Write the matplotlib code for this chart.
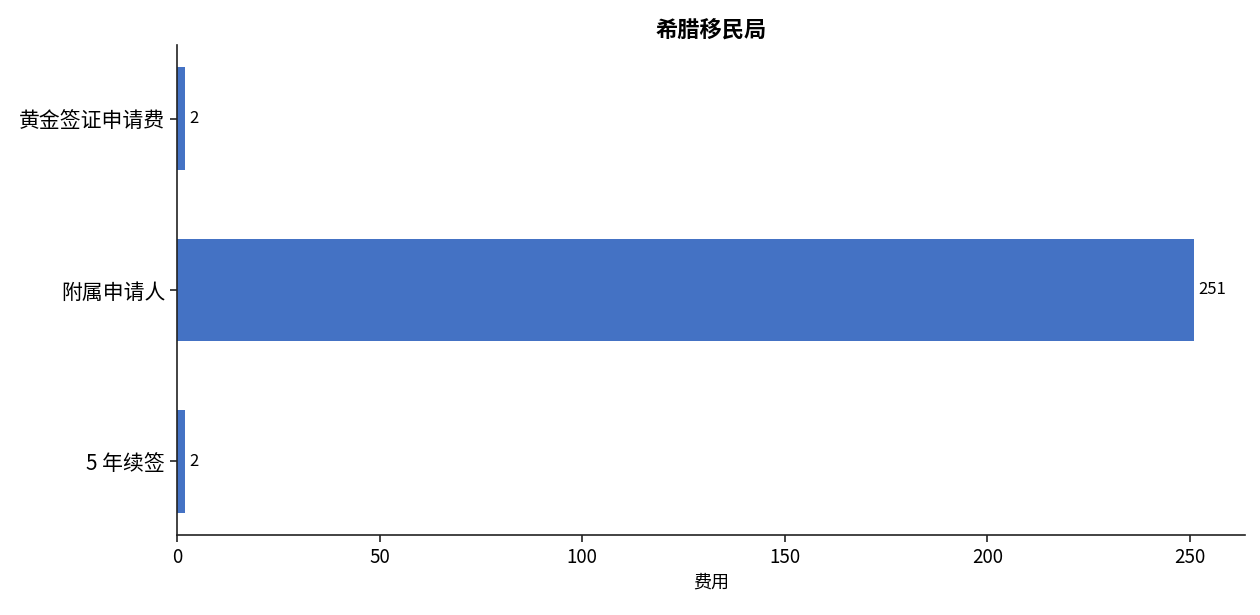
import matplotlib
matplotlib.use("Agg")
import matplotlib.pyplot as plt

plt.rcParams['font.family'] = ['Noto Sans CJK SC', 'DejaVu Sans']

categories = ['黄金签证申请费', '附属申请人', '5 年续签']
values = [2, 251, 2]
title = '希腊移民局'
xlabel = '费用'
bar_color = '#4472C4'

fig = plt.figure(figsize=(12.6, 6.15), dpi=100)
ax = fig.add_axes([177/1260, 1 - 535/615, (1245-177)/1260, (535-45)/615])

ypos = list(range(len(categories)))[::-1]
bars = ax.barh(ypos, values, height=0.6, color=bar_color)
ax.set_yticks(ypos)
ax.set_yticklabels(categories, fontsize=15)
ax.tick_params(axis='x', labelsize=13.5)
ax.tick_params(axis='both', width=1.2, length=5, color='#222222')

for b, v in zip(bars, values):
    ax.text(b.get_width() + 1, b.get_y() + b.get_height()/2, f'{v}',
            va='center', ha='left', fontsize=12)

ax.set_title(title, fontsize=16, fontweight='bold', pad=6)
ax.set_xlabel(xlabel, fontsize=13)
ax.spines['top'].set_visible(False)
ax.spines['right'].set_visible(False)
for s in ['left', 'bottom']:
    ax.spines[s].set_linewidth(1.2)
    ax.spines[s].set_color('#222222')

fig.savefig('out.png', dpi=100)
